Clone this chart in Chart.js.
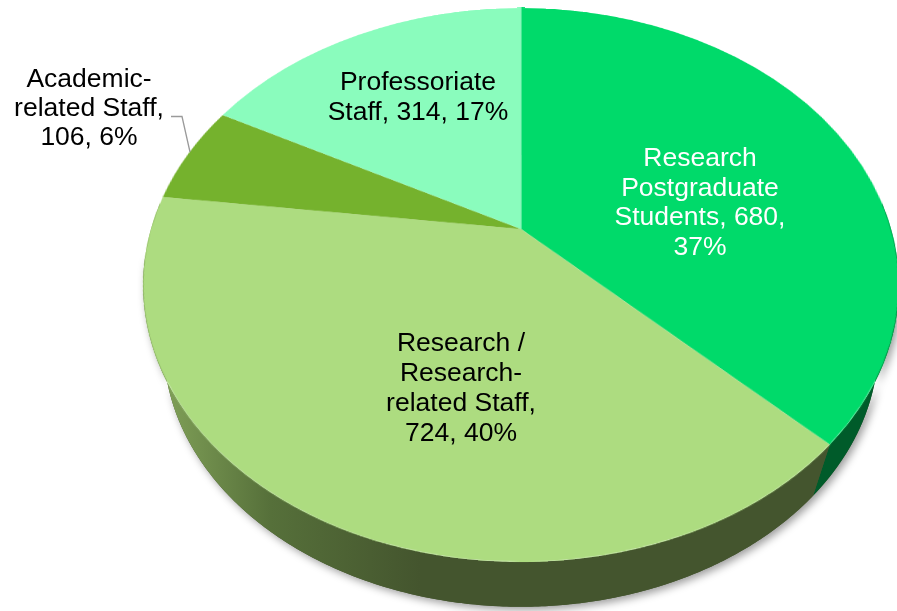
<!DOCTYPE html>
<html>
<head>
<meta charset="utf-8">
<script src="https://cdn.jsdelivr.net/npm/chart.js@4.4.1/dist/chart.umd.min.js"></script>
<style>
  html, body { margin: 0; padding: 0; background: #ffffff; }
  #wrap { width: 897px; height: 611px; }
  canvas { display: block; }
</style>
</head>
<body>
<div id="wrap"><canvas id="c" width="897" height="611"></canvas></div>
<script>
// ---- data ----
const categories = ['Research Postgraduate Students', 'Research / Research-related Staff', 'Academic-related Staff', 'Professoriate Staff'];
const values = [680, 724, 106, 314];
const topColors = ['#00DA6A', '#ADDC80', '#75B22D', '#8AFCBD'];
const sideColors = ['#005B2A', 'gradient', '#4E7A1F', '#3FAA70'];

const total = values.reduce((a, b) => a + b, 0);
const pct = values.map(v => Math.round(v / total * 100) + '%');

// label text, line-broken as in the picture
const labelLines = [
  ['Research', 'Postgraduate', 'Students, ' + values[0] + ',', pct[0]],
  ['Research /', 'Research-', 'related Staff,', values[1] + ', ' + pct[1]],
  ['Academic-', 'related Staff,', values[2] + ', ' + pct[2]],
  ['Professoriate', 'Staff, ' + values[3] + ', ' + pct[3]]
];
const labelColors = ['#FFFFFF', '#000000', '#000000', '#000000'];

// ---- layout / perspective (styles, not data) ----
const P3 = { cx: 521, cy: 229, c: 265.7, k: 0.2022, r: 370, vx: 521, vy: 1390, s: 0.054 };
const labelLayout = [
  { x: 700, y: 166, lh: 29.7 },
  { x: 461, y: 351, lh: 30 },
  { x: 89,  y: 87,  lh: 29 },
  { x: 418, y: 90,  lh: 30 }
];
const FONT = '26.5px "Liberation Sans", Arial, sans-serif';
const FRONT = [-0.1, Math.PI + 0.1]; // visible wall range (canvas angles)

function project(u, v) {
  const w = 1 / (1 - P3.k * v);
  return [P3.cx + P3.r * u * w, P3.cy + P3.c * v * w];
}
function lower(p) {
  return [p[0] + P3.s * (P3.vx - p[0]), p[1] + P3.s * (P3.vy - p[1])];
}
function invRow(y) {
  const t = (y - P3.cy) / P3.c;
  return t / (1 + P3.k * t);
}

const pie3d = {
  id: 'pie3d',
  afterDatasetsDraw(chart) {
    const ctx = chart.ctx;
    const W = chart.canvas.width, H = chart.canvas.height;
    const meta = chart.getDatasetMeta(0);
    const arcs = meta.data;
    const scx = arcs[0].x, scy = arcs[0].y, Rs = arcs[0].outerRadius;

    // copy the flat pie drawn by Chart.js
    const src = document.createElement('canvas');
    src.width = W; src.height = H;
    src.getContext('2d').drawImage(chart.canvas, 0, 0);

    ctx.save();
    ctx.setTransform(1, 0, 0, 1, 0, 0);
    ctx.clearRect(0, 0, W, H);

    // ---- side walls, from the arcs' angles ----
    const sidePath = (a0, a1) => {
      const top = [], bot = [];
      const n = Math.max(2, Math.ceil((a1 - a0) / 0.008));
      for (let i = 0; i <= n; i++) {
        const a = a0 + (a1 - a0) * i / n;
        const p = project(Math.cos(a), Math.sin(a));
        top.push(p); bot.push(lower(p));
      }
      ctx.moveTo(top[0][0], top[0][1]);
      for (let i = 1; i < top.length; i++) ctx.lineTo(top[i][0], top[i][1]);
      for (let i = bot.length - 1; i >= 0; i--) ctx.lineTo(bot[i][0], bot[i][1]);
      ctx.closePath();
    };
    // shadow under the front of the body only
    ctx.save();
    ctx.shadowColor = 'rgba(0,0,0,0.4)';
    ctx.shadowBlur = 9;
    ctx.shadowOffsetX = 3;
    ctx.shadowOffsetY = 3;
    ctx.fillStyle = '#44552E';
    ctx.beginPath();
    sidePath(0.15, Math.PI - 0.1);
    ctx.fill();
    ctx.restore();

    arcs.forEach((a, i) => {
      const a0 = Math.max(a.startAngle, FRONT[0]);
      const a1 = Math.min(a.endAngle, FRONT[1]);
      if (a1 <= a0) return;
      let fill = sideColors[i];
      if (fill === 'gradient') {
        const g = ctx.createLinearGradient(148, 0, 420, 0);
        g.addColorStop(0, '#86A75C');
        g.addColorStop(0.45, '#56703A');
        g.addColorStop(1, '#44552E');
        fill = g;
      }
      ctx.fillStyle = fill;
      ctx.beginPath();
      sidePath(a0, a1);
      ctx.fill();
    });

    // ---- top face: remap the flat pie row by row into perspective ----
    ctx.imageSmoothingEnabled = true;
    const yTop = Math.floor(project(0, -1)[1]) - 1;
    const yBot = Math.ceil(project(0, 1)[1]) + 1;
    for (let y = yTop; y <= yBot; y++) {
      let v0 = invRow(y), v1 = invRow(y + 1);
      if (v1 <= -1 || v0 >= 1) continue;
      v0 = Math.max(v0, -1); v1 = Math.min(v1, 1);
      const vm = (v0 + v1) / 2;
      const w = 1 / (1 - P3.k * vm);
      const halfS = Math.sqrt(Math.max(0, 1 - vm * vm)) * Rs + 2;
      const halfD = halfS / Rs * P3.r * w;
      const sy = scy + v0 * Rs;
      const sh = Math.max((v1 - v0) * Rs, 0.6);
      ctx.drawImage(src, scx - halfS, sy, 2 * halfS, sh, P3.cx - halfD, y, 2 * halfD, 1);
    }

    // ---- data labels ----
    ctx.font = FONT;
    ctx.textAlign = 'center';
    ctx.textBaseline = 'alphabetic';
    labelLines.forEach((lines, i) => {
      const L = labelLayout[i];
      ctx.fillStyle = labelColors[i];
      lines.forEach((t, j) => ctx.fillText(t, L.x, L.y + j * L.lh));
    });
    // leader line for the small slice
    ctx.strokeStyle = '#9A9A9A';
    ctx.lineWidth = 1.3;
    ctx.beginPath();
    ctx.moveTo(171, 116.5);
    ctx.lineTo(182, 116.5);
    ctx.lineTo(190, 152);
    ctx.stroke();

    ctx.restore();
  }
};

new Chart(document.getElementById('c'), {
  type: 'pie',
  data: {
    labels: categories,
    datasets: [{
      data: values,
      backgroundColor: topColors,
      borderWidth: 0,
      borderColor: 'rgba(0,0,0,0)'
    }]
  },
  options: {
    responsive: false,
    devicePixelRatio: 1,
    animation: false,
    rotation: 0,
    layout: { padding: 0 },
    plugins: {
      legend: { display: false },
      tooltip: { enabled: false },
      title: { display: false }
    },
    events: []
  },
  plugins: [pie3d]
});
</script>
</body>
</html>
